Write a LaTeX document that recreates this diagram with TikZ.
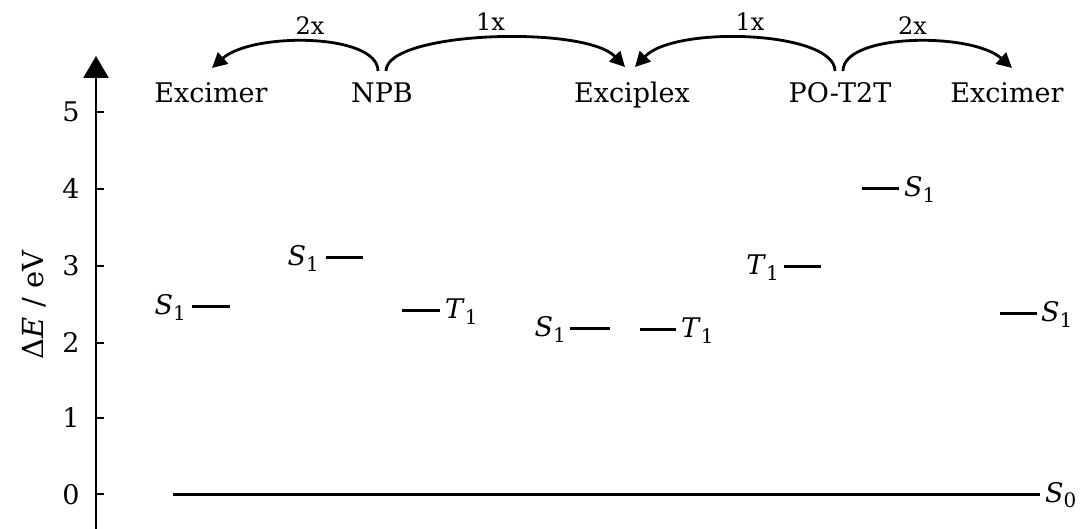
\documentclass[tikz,border=0pt]{standalone}
\usepackage{fontspec}
\setmainfont{DejaVu Serif}
\usetikzlibrary{arrows.meta,calc}
\newcommand{\lv}[2]{\textit{#1}\raisebox{-0.2em}{\fontsize{20}{20}\selectfont #2}}
\begin{document}
\begin{tikzpicture}[x=1pt,y=1pt,
  font=\fontsize{27}{32}\selectfont,
  lvl/.style={line width=3pt},
  axisline/.style={line width=2.8pt},
  tick/.style={line width=2.2pt},
  toplab/.style={anchor=base,inner sep=0pt},
  ticklab/.style={anchor=base,inner sep=0pt},
  lvlabL/.style={anchor=base east,inner sep=0pt},
  lvlabR/.style={anchor=base west,inner sep=0pt},
  arr/.style={line width=2.8pt,-{Triangle[length=15pt,width=15pt]}},
  small/.style={font=\fontsize{24}{28}\selectfont,inner sep=0pt}]
\useasboundingbox (0,0) rectangle (1088,-529);
\fill[white] (0,0) rectangle (1088,-529);
% axis
\coordinate (abot) at (96,-529);
\coordinate (atop) at (96,-56);
\draw[axisline,-{Triangle[length=22pt,width=25pt]}] (abot) -- (atop);
\foreach \v/\y in {0/494,1/418,2/343,3/266,4/189,5/112}{
  \draw[tick] (96,-\y) -- (104,-\y);
  \node[ticklab] (t\v) at (71,-\y-10) {\v};
}
\node[rotate=90,inner sep=0pt,font=\fontsize{29}{32}\selectfont] (ylab) at (34,-305) {Δ\textit{E} / eV};
% top labels
\node[toplab] (exl) at (211,-103) {Excimer};
\node[toplab] (npb) at (382,-103) {NPB};
\node[toplab] (exc) at (632,-103) {Exciplex};
\node[toplab] (po)  at (840,-103) {PO-T2T};
\node[toplab] (exr) at (1007,-103) {Excimer};
% arrow end points
\coordinate (npbL) at (378,-71);
\coordinate (npbR) at (386,-71);
\coordinate (poL)  at (835,-71);
\coordinate (poR)  at (843,-71);
\coordinate (exlT) at (212,-68);
\coordinate (excL) at (625,-67);
\coordinate (excR) at (635,-67);
\coordinate (exrT) at (1012,-68);
\draw[arr] (npbL) .. controls ($(npbL)+(0,38)$) and ($(exlT)+(40,36)$) .. node[pos=0.5,above=6pt,small] (m1) {2x} (exlT);
\draw[arr] (npbR) .. controls ($(npbR)+(0,40)$) and ($(excL)+(-40,42)$) .. node[pos=0.5,above=6pt,small] (m2) {1x} (excL);
\draw[arr] (poL) .. controls ($(poL)+(0,40)$) and ($(excR)+(40,42)$) .. node[pos=0.5,above=6pt,small] (m3) {1x} (excR);
\draw[arr] (poR) .. controls ($(poR)+(0,38)$) and ($(exrT)+(-40,36)$) .. node[pos=0.5,above=6pt,small] (m4) {2x} (exrT);
% levels
\draw[lvl] (192,-307) -- (230,-307);
\node[lvlabL] (s1a) at (186,-315) {\lv{S}{1}};
\draw[lvl] (326,-258) -- (363,-258);
\node[lvlabL] (s1b) at (319,-266) {\lv{S}{1}};
\draw[lvl] (402,-311) -- (440,-311);
\node[lvlabR] (t1b) at (445,-319) {\lv{T}{1}};
\draw[lvl] (570,-329) -- (610,-329);
\node[lvlabL] (s1c) at (566,-337) {\lv{S}{1}};
\draw[lvl] (640,-330) -- (676,-330);
\node[lvlabR] (t1c) at (681,-338) {\lv{T}{1}};
\draw[lvl] (784,-267) -- (821,-267);
\node[lvlabL] (t1d) at (779,-275) {\lv{T}{1}};
\draw[lvl] (862,-189) -- (899,-189);
\node[lvlabR] (s1d) at (904,-197) {\lv{S}{1}};
\draw[lvl] (1000,-314) -- (1037,-314);
\node[lvlabR] (s1e) at (1041,-322) {\lv{S}{1}};
\draw[lvl] (173,-494) -- (1040,-494);
\node[lvlabR] (s0) at (1045,-502) {\lv{S}{0}};
\end{tikzpicture}
\end{document}
